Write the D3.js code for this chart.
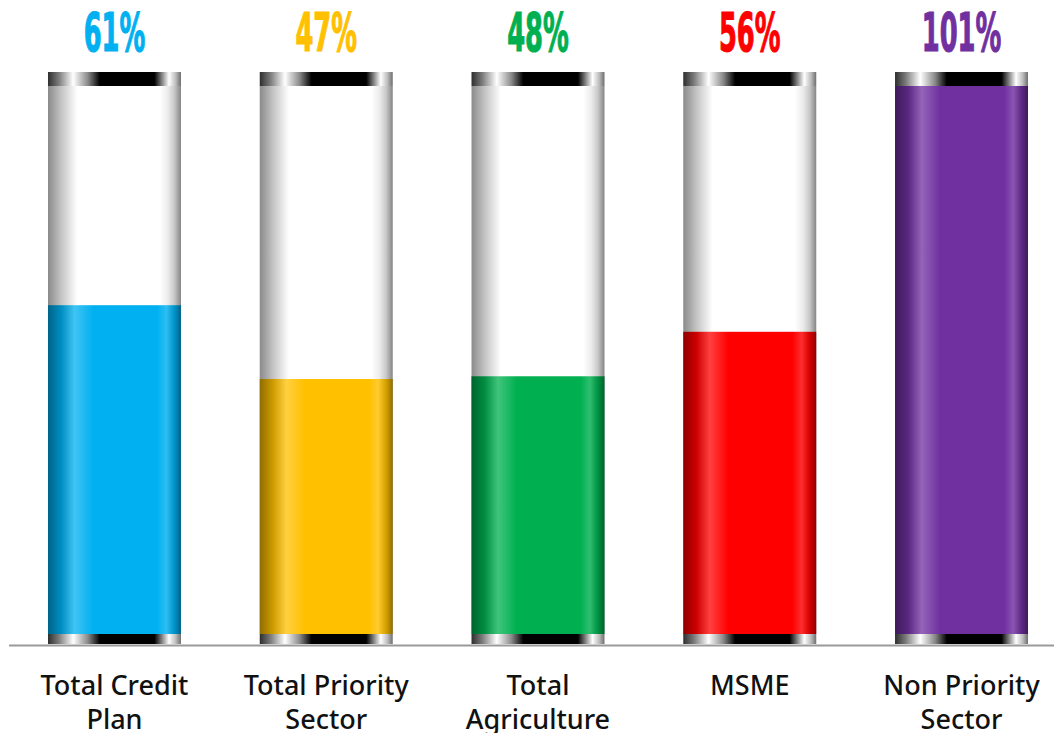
<!DOCTYPE html>
<html><head><meta charset="utf-8">
<script src="https://cdn.jsdelivr.net/npm/d3@7"></script>
<style>html,body{margin:0;padding:0;background:#fff;overflow:hidden}</style>
</head><body>
<svg id="chart" width="1054" height="733"></svg>
<script>
const categories = [["Total Credit","Plan"],["Total Priority","Sector"],["Total","Agriculture"],["MSME",""],["Non Priority","Sector"]];
const values = [60.6, 47.0, 47.5, 55.7, 101.0];
const colors = ["#00B0F0","#FFC000","#00B050","#FF0000","#7030A0"];
const yMax = 101;

const svg = d3.select("#chart");
const x = d3.scaleBand().domain(d3.range(values.length)).range([8.6, 1067.4]).paddingInner(0.372).paddingOuter(0.186);
const y = d3.scaleLinear().domain([0, yMax]).range([634, 86]);
const bw = x.bandwidth();
const defs = svg.append("defs");

function grad(id, stops){
  const g = defs.append("linearGradient").attr("id", id).attr("x1","0").attr("x2","1").attr("y1","0").attr("y2","0");
  stops.forEach(s => g.append("stop").attr("offset", s[0]).attr("stop-color", s[1]));
}
grad("glass", [[0,"#8a8a8a"],[0.1,"#c4c4c4"],[0.22,"#ffffff"],[0.84,"#ffffff"],[0.9,"#ececec"],[0.95,"#c8c8c8"],[1,"#858585"]]);
grad("cap", [[0,"#2e2e2e"],[0.08,"#7a7a7a"],[0.19,"#ffffff"],[0.3,"#8a8a8a"],[0.39,"#000000"],[0.8,"#000000"],[0.86,"#8a8a8a"],[0.91,"#ffffff"],[0.96,"#bdbdbd"],[1,"#6e6e6e"]]);
colors.forEach((c,i) => {
  const base = d3.color(c);
  const light = d3.interpolateRgb(c, "#ffffff")(0.25);
  grad("fill"+i, [[0, base.darker(1.6).formatHex()],[0.1, base.darker(0.6).formatHex()],[0.2, light],[0.34, c],[0.82, c],[0.89, d3.interpolateRgb(c, "#ffffff")(0.18)],[0.95, base.darker(0.5).formatHex()],[1, base.darker(1.6).formatHex()]]);
});

const g = svg.append("g");
const bars = g.selectAll("g.bar").data(values).join("g").attr("class","bar");
bars.append("rect").attr("x",(d,i)=>x(i)).attr("width",bw)
  .attr("y", y(yMax)).attr("height", y(0)-y(yMax)).attr("fill","url(#glass)");
bars.append("rect").attr("x",(d,i)=>x(i)).attr("width",bw)
  .attr("y", d=>y(Math.min(d,yMax))).attr("height", d=>y(0)-y(Math.min(d,yMax)))
  .attr("fill",(d,i)=>"url(#fill"+i+")");
bars.append("rect").attr("x",(d,i)=>x(i)).attr("width",bw)
  .attr("y", y(yMax)-14).attr("height",14).attr("fill","url(#cap)");
bars.append("rect").attr("x",(d,i)=>x(i)).attr("width",bw)
  .attr("y", y(0)).attr("height",10).attr("fill","url(#cap)");

const axis = svg.append("g").attr("transform",`translate(0,${y(0)+11})`)
  .call(d3.axisBottom(x).tickSize(0).tickFormat(""));
axis.select(".domain").attr("stroke","#9a9a9a").attr("stroke-width",2);

bars.append("text")
  .attr("text-anchor","middle")
  .attr("font-family","'DejaVu Sans Condensed','DejaVu Sans',sans-serif")
  .attr("font-weight","bold")
  .attr("font-size",54)
  .attr("stroke",(d,i)=>colors[i]).attr("stroke-width",1.2)
  .attr("fill",(d,i)=>colors[i])
  .attr("transform",(d,i)=>`translate(${x(i)+bw/2},51) scale(0.53,1)`)
  .text(d=>Math.round(d)+"%");

const cl = svg.append("g").selectAll("text").data(categories).join("text")
  .attr("text-anchor","middle")
  .attr("font-family","'Noto Sans', sans-serif")
  .attr("font-weight",500)
  .attr("font-size",27)
  .attr("fill","#111")
  .attr("x",(d,i)=>x(i)+bw/2).attr("y",695);
cl.selectAll("tspan").data(d=>d).join("tspan")
  .attr("x",function(){return this.parentNode.getAttribute("x");})
  .attr("dy",(d,j)=>j===0?0:34).text(d=>d);
</script>
</body></html>
